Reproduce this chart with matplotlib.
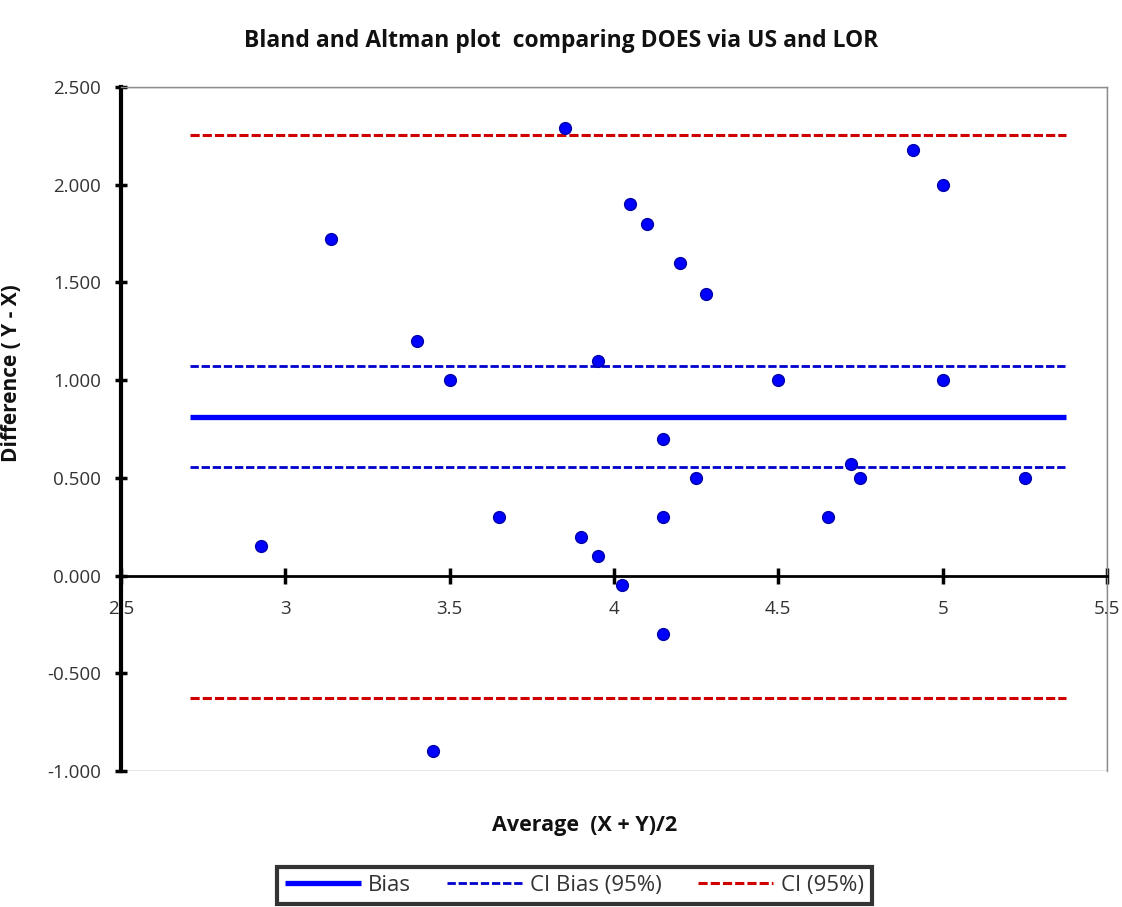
import matplotlib
matplotlib.use('Agg')
import matplotlib.pyplot as plt
from matplotlib.patches import Rectangle
from matplotlib.ticker import FormatStrFormatter

plt.rcParams['font.family'] = ['Open Sans', 'DejaVu Sans']

# average (X+Y)/2 and difference (Y-X) for each subject
avg = [2.925, 3.14, 3.40, 3.50, 3.45, 3.65, 3.85, 3.90, 3.95, 3.95, 4.025, 4.05, 4.10,
       4.15, 4.15, 4.15, 4.20, 4.25, 4.28, 4.50, 4.65, 4.72, 4.75, 4.91, 5.00, 5.00, 5.25]
diff = [0.15, 1.72, 1.20, 1.00, -0.90, 0.30, 2.29, 0.20, 0.10, 1.10, -0.05, 1.90, 1.80,
        -0.30, 0.70, 0.30, 1.60, 0.50, 1.44, 1.00, 0.30, 0.57, 0.50, 2.18, 2.00, 1.00, 0.50]

line_x = [2.71, 5.375]
bias = 0.81
ci_bias = [0.555, 1.07]
ci = [-0.625, 2.255]

xticks = [2.5, 3, 3.5, 4, 4.5, 5, 5.5]
yticks = [-1.0, -0.5, 0.0, 0.5, 1.0, 1.5, 2.0, 2.5]

fig = plt.figure(figsize=(11.22, 9.07), dpi=100)
ax = fig.add_axes([0.1078, 0.1499, 0.8788, 0.7542])

ax.plot(line_x, [bias, bias], color='#0000FF', lw=3.8, solid_capstyle='butt', label='Bias', zorder=2)
ax.plot(line_x, [ci_bias[0]] * 2, color='#0000CC', lw=2.0, ls=(0, (3, 1)), label='CI Bias (95%)', zorder=2)
ax.plot(line_x, [ci_bias[1]] * 2, color='#0000CC', lw=2.0, ls=(0, (3, 1)), zorder=2)
ax.plot(line_x, [ci[0]] * 2, color='#D00000', lw=2.2, ls=(0, (3, 1)), label='CI (95%)', zorder=2)
ax.plot(line_x, [ci[1]] * 2, color='#D00000', lw=2.2, ls=(0, (3, 1)), zorder=2)

ax.plot(avg, diff, 'o', color='#0000FF', mec='#0000AA', ms=8.5, ls='none', zorder=3)

ax.set_xlim(2.5, 5.5)
ax.set_ylim(-1.0, 2.5)
ax.set_xticks(xticks)
ax.set_yticks(yticks)
ax.set_xticklabels(['2.5', '3', '3.5', '4', '4.5', '5', '5.5'])
ax.yaxis.set_major_formatter(FormatStrFormatter('%.3f'))

# frame: thick y axis, x axis through zero, thin grey box
ax.spines['left'].set_linewidth(3)
ax.spines['bottom'].set_position(('data', 0))
ax.spines['bottom'].set_linewidth(2)
for s in ['top', 'right']:
    ax.spines[s].set_color('#8c8c8c')
    ax.spines[s].set_linewidth(1)
ax.add_patch(Rectangle((0, 0), 1, 1, transform=ax.transAxes, fill=False,
                       edgecolor='#8c8c8c', lw=1, zorder=0))

ax.tick_params(axis='y', direction='inout', length=9, width=2.5, pad=10,
               labelsize=13.5, labelcolor='#333333')
ax.tick_params(axis='x', direction='inout', length=11, width=2.5, pad=12,
               labelsize=13.5, labelcolor='#333333')

fig.text(0.5, 0.955, 'Bland and Altman plot  comparing DOES via US and LOR',
         ha='center', va='center', fontsize=16.5, fontweight='bold', color='#111111')
ax.set_ylabel('Difference ( Y - X)', fontsize=15, fontweight='bold', color='#111111')
ax.yaxis.set_label_coords(-0.1, 0.582)
ax.set_xlabel('Average  (X + Y)/2', fontsize=15.5, fontweight='bold', color='#111111')
ax.xaxis.set_label_coords(0.47, -0.064)

leg = fig.legend(loc='upper center', bbox_to_anchor=(0.512, 1 - 867 / 907), ncol=3,
                 frameon=True, fancybox=False, fontsize=16, handlelength=3.4,
                 columnspacing=1.6, borderpad=0.35, handletextpad=0.35,
                 borderaxespad=0)
leg.get_frame().set_edgecolor('black')
leg.get_frame().set_linewidth(3)
for t in leg.get_texts():
    t.set_color('#333333')

fig.savefig('out.png', dpi=100)
